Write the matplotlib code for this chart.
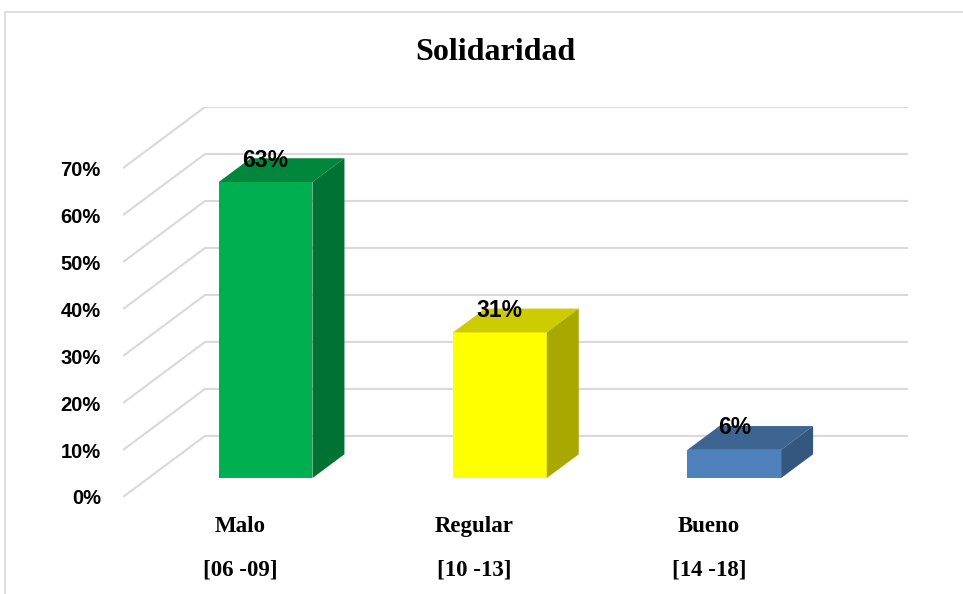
import matplotlib
matplotlib.use('Agg')
import matplotlib.pyplot as plt
import matplotlib.patches as mpatches

# chart data
categories = ['Malo\n[06 -09]', 'Regular\n[10 -13]', 'Bueno\n[14 -18]']
values = [0.63, 0.31, 0.06]
labels = ['63%', '31%', '6%']
yticks = [0, 0.1, 0.2, 0.3, 0.4, 0.5, 0.6, 0.7]
ytick_labels = ['0%', '10%', '20%', '30%', '40%', '50%', '60%', '70%']

# face colours: front, top, side
front_cols = ['#00b050', '#ffff00', '#4f81bd']
top_cols = ['#00873b', '#cccc00', '#3c6591']
side_cols = ['#007332', '#a8a800', '#33577e']

# fake 3d geometry (data units)
DX, DY = 0.35, 0.13      # full floor depth offset
d0, d1 = 0.31, 0.70      # bar depth fraction front/back
w = 0.40                 # bar width

W, H = 963, 594
fig = plt.figure(figsize=(W / 100, H / 100), dpi=100)

# light frame around the chart area (right and bottom run off the picture)
fig.patches.append(mpatches.Rectangle((5 / W, -0.1), 1, 1.1 - 12 / H, transform=fig.transFigure,
                                      fill=False, edgecolor='#d9d9d9', linewidth=1.2))

ax = fig.add_axes([123 / W, (H - 497) / H, (908 - 123) / W, 390 / H])
ax.set_xlim(-0.5, 2.5 + DX)
ax.set_ylim(0, 0.7 + DY)
for s in ax.spines.values():
    s.set_visible(False)

# gridlines: slanted side wall + back wall
grid_col = '#d9d9d9'
for v in yticks:
    ax.plot([-0.5, -0.5 + DX, 2.5 + DX], [v, v + DY, v + DY], color=grid_col, lw=1.5,
            zorder=1, solid_capstyle='butt')

# bars
for i, v in enumerate(values):
    a, b = d0, d1 - d0
    xl = i + a * DX - w / 2
    xr = xl + w
    y0 = a * DY
    front = mpatches.Polygon([(xl, y0), (xr, y0), (xr, y0 + v), (xl, y0 + v)],
                             closed=True, facecolor=front_cols[i], edgecolor='none', zorder=3)
    top = mpatches.Polygon([(xl, y0 + v), (xr, y0 + v), (xr + b * DX, y0 + v + b * DY),
                            (xl + b * DX, y0 + v + b * DY)],
                           closed=True, facecolor=top_cols[i], edgecolor='none', zorder=3)
    side = mpatches.Polygon([(xr, y0), (xr, y0 + v), (xr + b * DX, y0 + v + b * DY),
                             (xr + b * DX, y0 + b * DY)],
                            closed=True, facecolor=side_cols[i], edgecolor='none', zorder=3)
    for p in (front, top, side):
        ax.add_patch(p)
    ax.text(i + a * DX, y0 + v + b * DY - 0.004, labels[i], ha='center', va='center',
            fontsize=16.5, fontweight='bold', family='Liberation Sans', zorder=5)

ax.set_yticks(yticks)
ax.set_yticklabels(ytick_labels, fontsize=14.5, fontweight='bold', family='Liberation Sans')
ax.tick_params(axis='y', length=0, pad=16)

ax.set_xticks(range(len(categories)))
ax.set_xticklabels(categories, fontsize=16.5, fontweight='bold', family='Liberation Serif',
                   linespacing=2.4, va='top')
ax.tick_params(axis='x', length=0, pad=14)

fig.text(495 / W, 1 - 52 / H, 'Solidaridad', ha='center', va='center', fontsize=23,
         fontweight='bold', family='Liberation Serif')

fig.savefig('out.png', dpi=100)
